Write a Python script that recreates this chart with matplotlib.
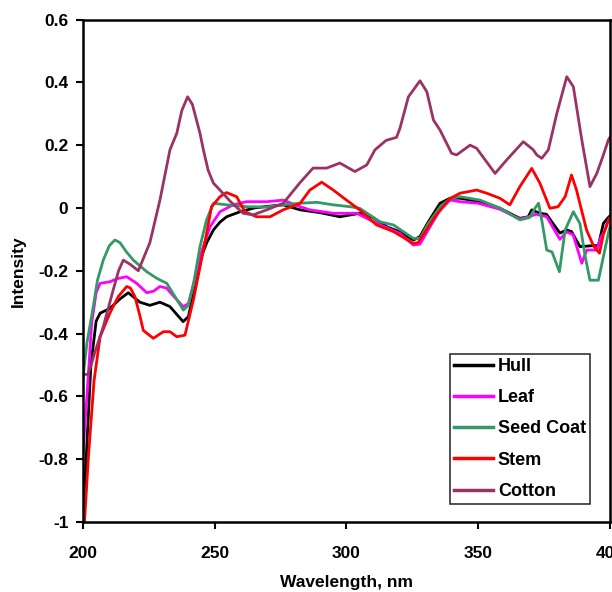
import matplotlib
matplotlib.use("Agg")
import matplotlib.pyplot as plt

plt.rcParams['font.family'] = ['Liberation Sans', 'DejaVu Sans']
plt.rcParams['font.weight'] = 'bold'

hull_x = [200, 201.5, 203, 205, 206.5, 210.2, 214, 217.2, 221.6, 225.4, 229.2, 233, 238, 240, 242, 244.4,
          247, 249.5, 252, 254.5, 259.6, 265, 270, 276, 282.4, 290, 297.5, 305, 310, 315.3, 320, 325.4,
          327.9, 331, 335.5, 339.3, 343.1, 350.7, 358.2, 365.8, 369, 370.3, 373.4, 375.9, 378, 381, 383.5,
          385.4, 388.6, 393.7, 395.6, 397.5, 399.4, 400]
hull_y = [-1.0, -0.75, -0.5, -0.36, -0.335, -0.32, -0.29, -0.27, -0.3, -0.31, -0.3, -0.314, -0.362, -0.346,
          -0.27, -0.166, -0.11, -0.07, -0.045, -0.028, -0.012, 0.0, 0.005, 0.01, -0.006, -0.015, -0.028,
          -0.017, -0.03, -0.06, -0.075, -0.102, -0.091, -0.045, 0.015, 0.031, 0.031, 0.02, -0.001, -0.033,
          -0.028, -0.006, -0.017, -0.02, -0.045, -0.08, -0.07, -0.075, -0.123, -0.12, -0.12, -0.049, -0.03,
          -0.025]

leaf_x = [200, 201.5, 203.3, 205, 206.5, 210.2, 213, 216.6, 220.4, 224.2, 226.8, 229.2, 231.7, 234.3, 238,
          240, 242, 244.4, 248.2, 252, 257, 262.1, 269.7, 276, 282.4, 286.1, 295, 303.9, 311.5, 320.3,
          325.4, 327.9, 331, 335.5, 339.3, 343.1, 350, 358.2, 365.8, 368.3, 372, 376, 381, 383.5, 386,
          389.3, 391.2, 395, 396.2, 398.1, 399.4, 400]
leaf_y = [-0.78, -0.6, -0.367, -0.27, -0.24, -0.235, -0.225, -0.219, -0.24, -0.27, -0.265, -0.25, -0.255,
          -0.28, -0.314, -0.305, -0.24, -0.155, -0.06, -0.012, 0.01, 0.02, 0.02, 0.025, 0.004, -0.006,
          -0.017, -0.017, -0.049, -0.081, -0.118, -0.115, -0.07, -0.006, 0.025, 0.02, 0.015, -0.004,
          -0.035, -0.03, -0.02, -0.028, -0.1, -0.076, -0.085, -0.176, -0.134, -0.134, -0.1, -0.07, -0.04,
          -0.03]

seed_x = [200, 201.5, 203.9, 205.5, 207.7, 210, 212.1, 214, 216.5, 219.1, 224.2, 228, 231.8, 234.9, 238.1,
          240, 242, 244.4, 246.9, 249.5, 254.5, 262.1, 269.7, 276, 282.4, 288.7, 295, 301.4, 305, 312.7,
          317.8, 325.4, 327.9, 331, 335.5, 339.3, 343.1, 350.7, 358.2, 365.8, 369.6, 371.6, 372.9, 374.1,
          376, 378, 380.8, 383, 386.1, 388.6, 390.5, 392.4, 395.6, 397.5, 399.4, 400]
seed_y = [-0.54, -0.43, -0.314, -0.23, -0.166, -0.12, -0.102, -0.11, -0.14, -0.166, -0.203, -0.224, -0.24,
          -0.282, -0.325, -0.31, -0.24, -0.123, -0.038, 0.015, 0.01, 0.004, 0.003, 0.01, 0.015, 0.018,
          0.01, 0.004, -0.001, -0.044, -0.054, -0.097, -0.097, -0.05, 0.003, 0.03, 0.036, 0.025, 0.0,
          -0.038, -0.03, 0.0, 0.015, -0.038, -0.134, -0.14, -0.203, -0.07, -0.012, -0.05, -0.15, -0.23,
          -0.23, -0.155, -0.08, -0.06]

stem_x = [200, 202, 204.2, 206.5, 210.2, 213.4, 216.6, 218, 219.7, 221.5, 222.9, 226.7, 230.5, 233, 235.6,
          238.7, 241.9, 245.7, 248.8, 252, 254.5, 258.3, 261.5, 265.9, 271, 276, 282.4, 286.1, 290.6, 295,
          300, 305, 311.4, 317.8, 325.4, 327.2, 334.2, 339.3, 343.1, 349.4, 353.2, 358.2, 362, 365.8,
          370.3, 373.4, 377.2, 380.3, 383, 385.4, 387.3, 391.1, 393.7, 396, 397.5, 399.4, 400]
stem_y = [-1.08, -0.8, -0.55, -0.41, -0.335, -0.282, -0.25, -0.255, -0.282, -0.34, -0.39, -0.415, -0.394,
          -0.394, -0.41, -0.405, -0.293, -0.134, 0.004, 0.036, 0.049, 0.036, -0.012, -0.028, -0.028,
          -0.006, 0.015, 0.057, 0.082, 0.057, 0.025, -0.006, -0.054, -0.075, -0.113, -0.11, -0.021, 0.03,
          0.047, 0.057, 0.047, 0.031, 0.01, 0.068, 0.126, 0.079, -0.001, 0.004, 0.036, 0.105, 0.057,
          -0.07, -0.12, -0.144, -0.084, -0.04, -0.03]

cotton_x = [200, 202, 204.5, 207.7, 211.5, 213.5, 215.3, 218, 221, 225.4, 229.2, 233, 235.6, 237.5, 239.7,
            241.5, 244.4, 245.7, 247.5, 249.5, 252, 256, 260.8, 264.6, 269.7, 276, 282.3, 287.3, 292.5,
            297.5, 303.2, 307.7, 310.8, 315, 319, 320.3, 323.5, 327.9, 330.5, 333, 335.5, 339.9, 341.8,
            346.9, 349.4, 356.4, 360.8, 367.1, 370.9, 372.2, 374.1, 376.6, 379.8, 383.6, 386.1, 389.3,
            392.4, 395, 397.5, 399.4, 400]
cotton_y = [-0.53, -0.53, -0.46, -0.378, -0.26, -0.2, -0.166, -0.18, -0.2, -0.11, 0.025, 0.185, 0.238, 0.31,
            0.354, 0.33, 0.238, 0.185, 0.12, 0.079, 0.057, 0.02, -0.017, -0.022, -0.006, 0.015, 0.08,
            0.127, 0.127, 0.143, 0.116, 0.137, 0.185, 0.215, 0.225, 0.254, 0.354, 0.405, 0.37, 0.28,
            0.248, 0.174, 0.169, 0.2, 0.19, 0.11, 0.153, 0.211, 0.185, 0.169, 0.158, 0.185, 0.3, 0.418,
            0.386, 0.217, 0.068, 0.11, 0.169, 0.217, 0.225]

labels = ["Hull", "Leaf", "Seed Coat", "Stem", "Cotton"]
colors = ["#000000", "#FF00FF", "#339966", "#FF0000", "#993366"]
xticks = [200, 250, 300, 350, 400]
yticks = [-1, -0.8, -0.6, -0.4, -0.2, 0, 0.2, 0.4, 0.6]
ytick_labels = ["-1", "-0.8", "-0.6", "-0.4", "-0.2", "0", "0.2", "0.4", "0.6"]

fig = plt.figure(figsize=(6.12, 5.92), dpi=100)
ax = fig.add_axes([0.1356, 0.1182, 0.8611, 0.8488])

series = [(hull_x, hull_y), (leaf_x, leaf_y), (seed_x, seed_y), (stem_x, stem_y), (cotton_x, cotton_y)]
for (xs, ys), lab, col in zip(series, labels, colors):
    ax.plot(xs, ys, color=col, lw=2.0, label=lab, solid_joinstyle='round')

ax.set_xlim(200, 400)
ax.set_ylim(-1, 0.6)
ax.set_xticks(xticks)
ax.set_xticklabels([str(t) for t in xticks], fontsize=12.5, fontweight='bold')
ax.set_yticks(yticks)
ax.set_yticklabels(ytick_labels, fontsize=12.5, fontweight='bold')
ax.tick_params(axis='both', direction='out', length=5, width=1.5)
ax.tick_params(axis='y', pad=5.5)
ax.tick_params(axis='x', pad=12)
for s in ax.spines.values():
    s.set_linewidth(1.8)
    s.set_color('black')

ax.set_xlabel("Wavelength, nm", fontsize=12.5, fontweight='bold', labelpad=10.5)
ax.set_ylabel("Intensity", fontsize=12.5, fontweight='bold', labelpad=9)

leg = ax.legend(loc='lower right', bbox_to_anchor=(0.962, 0.036), fontsize=13,
                frameon=True, fancybox=False, edgecolor='black', handlelength=2.2,
                labelspacing=0.79, borderpad=0.22, handletextpad=0.25, borderaxespad=0)
leg.get_frame().set_linewidth(1.2)
for line in leg.get_lines():
    line.set_linewidth(2.5)
for t in leg.get_texts():
    t.set_fontweight('bold')

fig.savefig("out.png", dpi=100)
